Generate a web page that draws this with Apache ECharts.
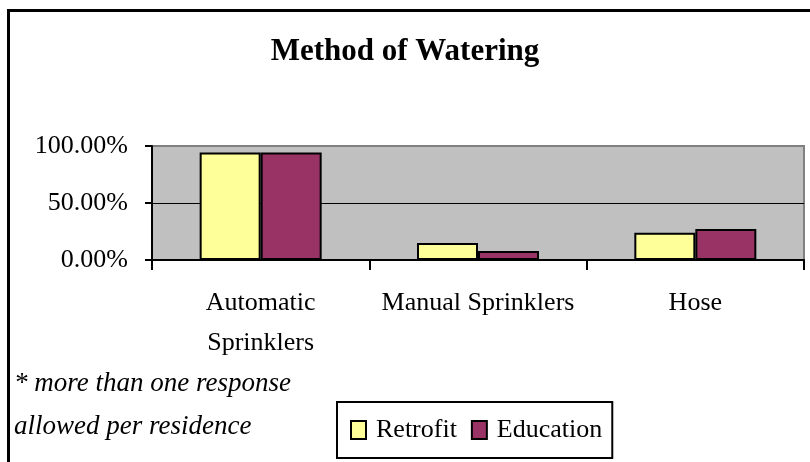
<!DOCTYPE html>
<html>
<head>
<meta charset="utf-8">
<script src="https://cdn.jsdelivr.net/npm/echarts@6/dist/echarts.min.js"></script>
<style>
  html, body { margin: 0; padding: 0; background: #fff; }
  #chart { width: 810px; height: 462px; }
</style>
</head>
<body>
<div id="chart"></div>
<script>
// data
var categories = ["Automatic\nSprinklers", "Manual Sprinklers", "Hose"];
var retrofit = [94.2, 15.0, 23.8];
var education = [94.2, 7.9, 27.3];
var yTicks = [0, 50, 100];

var FONT = "Liberation Serif";

var chart = echarts.init(document.getElementById("chart"));

var option = {
  backgroundColor: "#ffffff",
  animation: false,
  title: [
    {
      text: "Method of Watering",
      left: "center",
      top: 36,
      padding: 0,
      textStyle: { fontFamily: FONT, fontSize: 31, fontWeight: "bold", color: "#000" }
    },
    {
      text: "* more than one response\nallowed per residence",
      left: 14,
      top: 362,
      padding: 0,
      textStyle: { fontFamily: FONT, fontSize: 27, fontStyle: "italic", fontWeight: "normal", color: "#000", lineHeight: 43 }
    }
  ],
  legend: {
    left: 337,
    top: 402,
    padding: [15, 10, 15, 13],
    itemGap: 14,
    itemWidth: 15,
    itemHeight: 18,
    icon: "rect",
    borderColor: "#000",
    borderWidth: 2,
    itemStyle: { borderColor: "#000", borderWidth: 2 },
    textStyle: { fontFamily: FONT, fontSize: 26, color: "#000", padding: [0, 0, 0, 5] },
    data: ["Retrofit", "Education"]
  },
  grid: {
    left: 152,
    right: 6,
    top: 146,
    bottom: 202,
    show: true,
    backgroundColor: "#c0c0c0",
    borderColor: "#808080",
    borderWidth: 2,
    containLabel: false
  },
  xAxis: {
    type: "category",
    data: categories,
    axisLine: { show: true, lineStyle: { color: "#000", width: 2 } },
    axisTick: { show: true, alignWithLabel: false, length: 10, lineStyle: { color: "#000", width: 2 } },
    axisLabel: {
      interval: 0,
      margin: 23,
      fontFamily: FONT,
      fontSize: 26,
      lineHeight: 40,
      color: "#000",
      verticalAlign: "top"
    },
    splitLine: { show: false }
  },
  yAxis: {
    type: "value",
    min: yTicks[0],
    max: yTicks[yTicks.length - 1],
    interval: 50,
    axisLine: { show: true, lineStyle: { color: "#000", width: 2 } },
    axisTick: { show: true, length: 7, lineStyle: { color: "#000", width: 2 } },
    axisLabel: {
      margin: 24,
      fontFamily: FONT,
      fontSize: 26,
      color: "#000",
      formatter: function (v) { return v.toFixed(2) + "%"; }
    },
    splitLine: { show: true, lineStyle: { color: ["#000", "#000", "#808080"], width: [1] } }
  },
  series: [
    {
      name: "Retrofit",
      type: "bar",
      data: retrofit,
      barWidth: 61,
      barGap: "0%",
      itemStyle: { color: "#ffff99", borderColor: "#000", borderWidth: 2 }
    },
    {
      name: "Education",
      type: "bar",
      data: education,
      barWidth: 61,
      itemStyle: { color: "#993366", borderColor: "#000", borderWidth: 2 }
    }
  ],
  graphic: [
    {
      type: "rect",
      silent: true,
      z: 100,
      shape: { x: 8.5, y: 10.5, width: 900, height: 600 },
      style: { fill: "none", stroke: "#000", lineWidth: 3 }
    }
  ]
};

chart.setOption(option);
</script>
</body>
</html>
